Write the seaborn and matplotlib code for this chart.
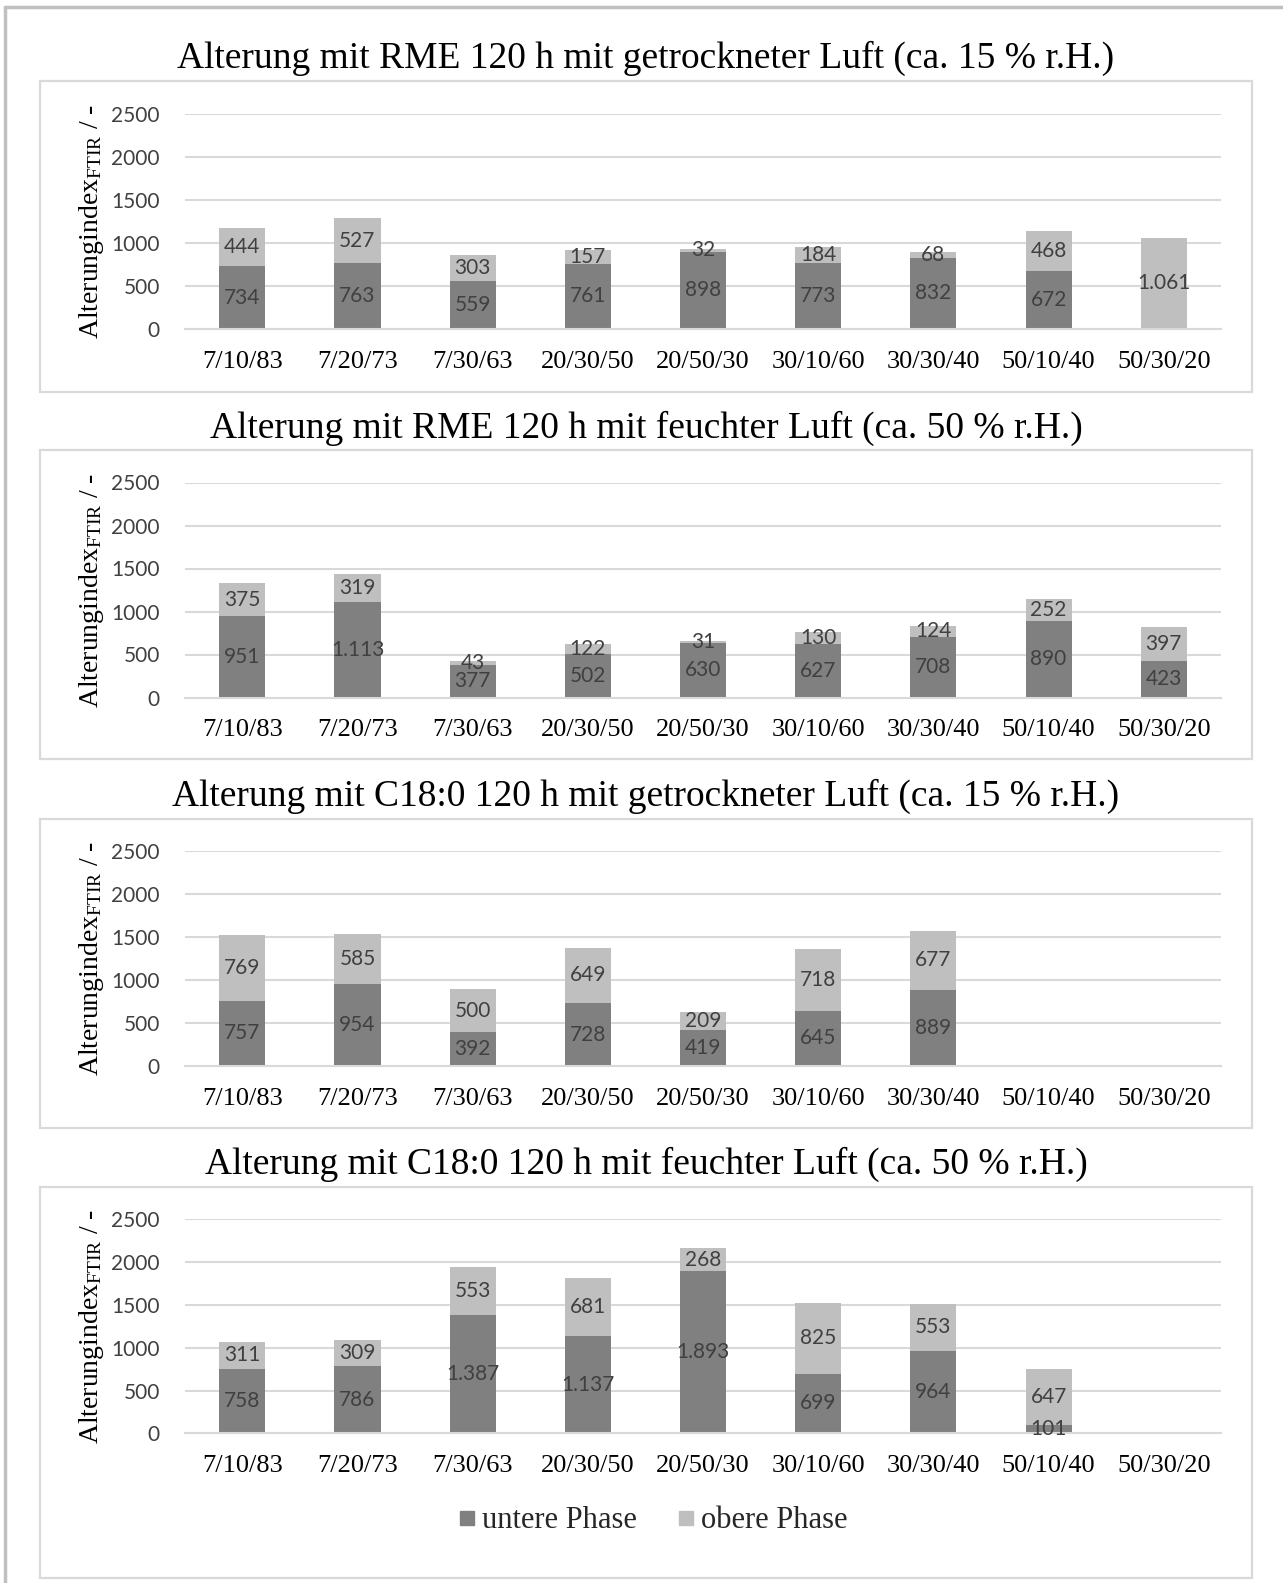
import numpy as np
import pandas as pd
import matplotlib
matplotlib.use("Agg")
import matplotlib.pyplot as plt
from matplotlib.patches import Rectangle
from matplotlib.lines import Line2D
import seaborn as sns

# ---- data ---------------------------------------------------------------
categories = ["7/10/83", "7/20/73", "7/30/63", "20/30/50", "20/50/30",
              "30/10/60", "30/30/40", "50/10/40", "50/30/20"]

titles = [
    "Alterung mit RME 120 h mit getrockneter Luft (ca. 15 % r.H.)",
    "Alterung mit RME 120 h mit feuchter Luft (ca. 50 % r.H.)",
    "Alterung mit C18:0 120 h mit getrockneter Luft (ca. 15 % r.H.)",
    "Alterung mit C18:0 120 h mit feuchter Luft (ca. 50 % r.H.)",
]

lower_rme_dry = [734, 763, 559, 761, 898, 773, 832, 672, 0]
upper_rme_dry = [444, 527, 303, 157, 32, 184, 68, 468, 1061]

lower_rme_wet = [951, 1113, 377, 502, 630, 627, 708, 890, 423]
upper_rme_wet = [375, 319, 43, 122, 31, 130, 124, 252, 397]

lower_c18_dry = [757, 954, 392, 728, 419, 645, 889, np.nan, np.nan]
upper_c18_dry = [769, 585, 500, 649, 209, 718, 677, np.nan, np.nan]

lower_c18_wet = [758, 786, 1387, 1137, 1893, 699, 964, 101, np.nan]
upper_c18_wet = [311, 309, 553, 681, 268, 825, 553, 647, np.nan]

series_names = ["untere Phase", "obere Phase"]
y_ticks = [0, 500, 1000, 1500, 2000, 2500]

# ---- style --------------------------------------------------------------
DARK = "#808080"
LIGHT = "#bfbfbf"
GRID = "#d9d9d9"
LABEL = "#404040"
SERIF = "Liberation Serif"
SANS = "Lato"

sns.set_theme(style="white")
plt.rcParams["font.family"] = [SERIF, "DejaVu Serif"]
plt.rcParams["mathtext.fontset"] = "custom"
plt.rcParams["mathtext.rm"] = SERIF
plt.rcParams["mathtext.it"] = SERIF + ":italic"

W, H = 1283, 1583
fig = plt.figure(figsize=(W / 100, H / 100), dpi=100)


def fx(px):
    return px / W


def fy(py):
    return 1 - py / H


# outer frame (left and top edges)
fig.add_artist(Line2D([fx(5), fx(5)], [fy(7), fy(H)], color="#c0c0c0", lw=2.5))
fig.add_artist(Line2D([fx(5), fx(W)], [fy(7), fy(7)], color="#c0c0c0", lw=2.5))

panels = [
    dict(lower=lower_rme_dry, upper=upper_rme_dry, title_y=58.5,
         box=(40.4, 80.8, 1251.7, 391.7), top=114.1, bot=329.1),
    dict(lower=lower_rme_wet, upper=upper_rme_wet, title_y=428.0,
         box=(40.4, 450.2, 1251.7, 759.1), top=482.5, bot=697.5),
    dict(lower=lower_c18_dry, upper=upper_c18_dry, title_y=796.4,
         box=(40.4, 818.7, 1251.7, 1127.5), top=851.0, bot=1066.0),
    dict(lower=lower_c18_wet, upper=upper_c18_wet, title_y=1163.9,
         box=(40.4, 1187.1, 1251.7, 1577.8), top=1219.4, bot=1433.4),
]

AX_L, AX_R = 184.7, 1221.4


def fmt(v):
    return f"{int(round(v)):,}".replace(",", ".")


for title, p in zip(titles, panels):
    x0, y0, x1, y1 = p["box"]
    fig.add_artist(Rectangle((fx(x0), fy(y1)), fx(x1 - x0), (y1 - y0) / H,
                             fill=False, edgecolor=GRID, lw=1.6))
    fig.text(fx(646), fy(p["title_y"]), title, ha="center", va="center",
             fontsize=27, family=SERIF, color="black")

    ax = fig.add_axes([fx(AX_L), fy(p["bot"]), fx(AX_R - AX_L),
                       (p["bot"] - p["top"]) / H])

    lower = np.array(p["lower"], dtype=float)
    upper = np.array(p["upper"], dtype=float)
    df = pd.DataFrame({"Mischung": categories, "total": lower + upper,
                       "lower": lower}).dropna()

    sns.barplot(data=df, x="Mischung", y="total", order=categories,
                color=LIGHT, saturation=1, width=0.4, errorbar=None, ax=ax,
                linewidth=0, zorder=2)
    sns.barplot(data=df, x="Mischung", y="lower", order=categories,
                color=DARK, saturation=1, width=0.4, errorbar=None, ax=ax,
                linewidth=0, zorder=3)

    for i, (lo, up) in enumerate(zip(lower, upper)):
        if np.isnan(lo):
            continue
        if lo > 0:
            ax.text(i, lo / 2, fmt(lo), ha="center", va="center",
                    fontsize=15, family=SANS, color=LABEL, zorder=5)
        if up > 0:
            ax.text(i, lo + up / 2, fmt(up), ha="center", va="center",
                    fontsize=15, family=SANS, color=LABEL, zorder=5)

    ax.set_xlim(-0.5, len(categories) - 0.5)
    ax.set_ylim(0, 2500)
    ax.set_yticks(y_ticks)
    ax.set_yticklabels([str(t) for t in y_ticks], family=SANS, fontsize=15,
                       color=LABEL)
    ax.set_xticks(range(len(categories)))
    ax.set_xticklabels(categories, family=SERIF, fontsize=19, color="black")
    ax.set_xticks(np.arange(-0.5, len(categories), 1.0), minor=True)
    ax.tick_params(axis="x", which="major", length=0, pad=15.5)
    ax.tick_params(axis="x", which="minor", length=7, width=1.5,
                   color=GRID, direction="out")
    ax.tick_params(axis="y", length=0, pad=18)

    ax.yaxis.grid(True, color=GRID, lw=1.5, zorder=0)
    ax.xaxis.grid(False)
    ax.set_axisbelow(True)
    for side in ["top", "right", "left"]:
        ax.spines[side].set_visible(False)
    ax.spines["bottom"].set_color(GRID)
    ax.spines["bottom"].set_linewidth(1.5)
    ax.spines["bottom"].set_zorder(4)
    ax.set_facecolor("none")

    ax.set_xlabel("")
    ax.set_ylabel(r"Alterungindex$_{\mathrm{FTIR}}$ / -", fontsize=20,
                  family=SERIF, color="black")
    ax.yaxis.set_label_coords((106 - AX_L) / (AX_R - AX_L), 0.5)

handles = [Line2D([], [], marker="s", ls="none", markersize=10,
                  markerfacecolor=c, markeredgecolor=c)
           for c in (DARK, LIGHT)]
fig.legend(handles, series_names, loc="center", ncol=2,
           bbox_to_anchor=(fx(651), fy(1521)), frameon=False,
           prop={"family": SERIF, "size": 22}, handletextpad=0.1,
           columnspacing=1.2, handlelength=0.8)

fig.savefig("out.png", dpi=100, facecolor="white")
